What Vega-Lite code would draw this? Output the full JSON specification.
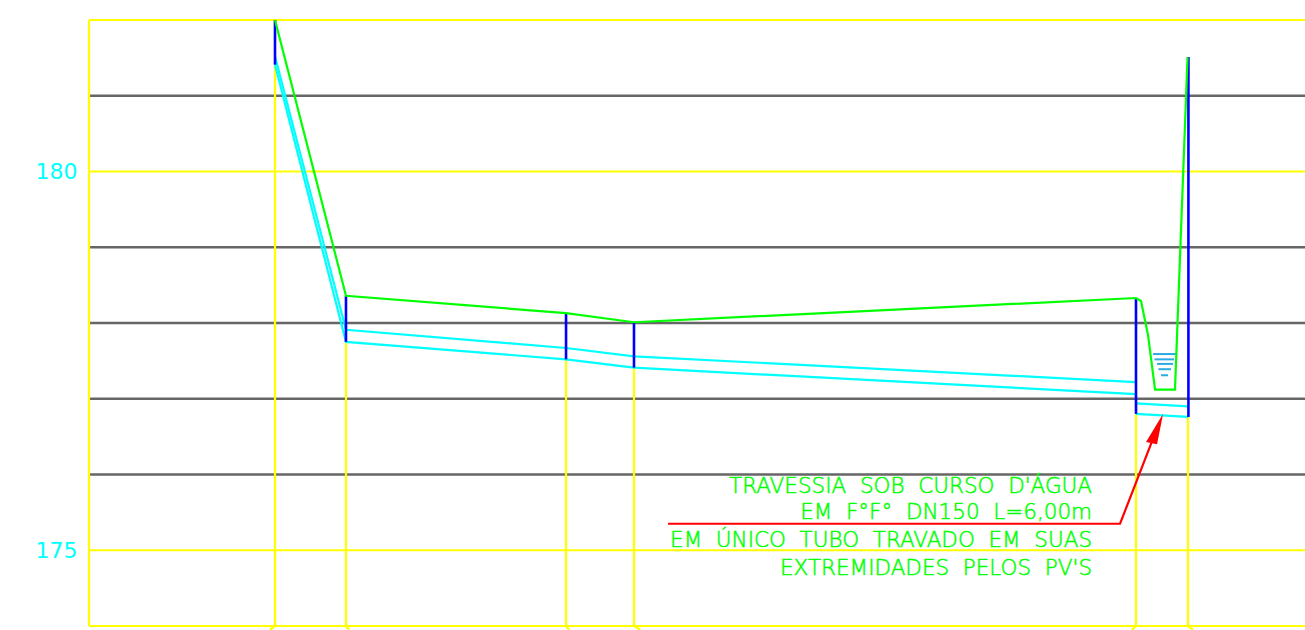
{"$schema":"https://vega.github.io/schema/vega-lite/v6.json","width":1216,"height":606,"autosize":"none","padding":{"left":89,"top":20,"right":0,"bottom":4},"background":"white","view":{"stroke":null},
"datasets":{"lines":[
{"s":"grid","p":"g181","o":0,"x":0,"y":181},{"s":"grid","p":"g181","o":1,"x":140.3,"y":181},
{"s":"grid","p":"g179","o":0,"x":0,"y":179},{"s":"grid","p":"g179","o":1,"x":140.3,"y":179},
{"s":"grid","p":"g178","o":0,"x":0,"y":178},{"s":"grid","p":"g178","o":1,"x":140.3,"y":178},
{"s":"grid","p":"g177","o":0,"x":0,"y":177},{"s":"grid","p":"g177","o":1,"x":140.3,"y":177},
{"s":"grid","p":"g176","o":0,"x":0,"y":176},{"s":"grid","p":"g176","o":1,"x":140.3,"y":176},
{"s":"frame","p":"f182","o":0,"x":0,"y":182},{"s":"frame","p":"f182","o":1,"x":140.3,"y":182},
{"s":"frame","p":"f180","o":0,"x":0,"y":180},{"s":"frame","p":"f180","o":1,"x":140.3,"y":180},
{"s":"frame","p":"f175","o":0,"x":0,"y":175},{"s":"frame","p":"f175","o":1,"x":140.3,"y":175},
{"s":"frame","p":"f174","o":0,"x":0,"y":174},{"s":"frame","p":"f174","o":1,"x":140.3,"y":174},
{"s":"frame","p":"left","o":0,"x":0,"y":182},{"s":"frame","p":"left","o":1,"x":0,"y":174},
{"s":"frame","p":"a","o":0,"x":21.46,"y":181.41},{"s":"frame","p":"a","o":1,"x":21.46,"y":174},{"s":"frame","p":"a","o":2,"x":20.88,"y":173.95},
{"s":"frame","p":"b","o":0,"x":29.65,"y":177.75},{"s":"frame","p":"b","o":1,"x":29.65,"y":174},{"s":"frame","p":"b","o":2,"x":30.0,"y":173.95},
{"s":"frame","p":"c","o":0,"x":55.04,"y":177.52},{"s":"frame","p":"c","o":1,"x":55.04,"y":174},{"s":"frame","p":"c","o":2,"x":55.38,"y":173.95},
{"s":"frame","p":"d","o":0,"x":62.88,"y":177.41},{"s":"frame","p":"d","o":1,"x":62.88,"y":174},{"s":"frame","p":"d","o":2,"x":63.6,"y":173.95},
{"s":"frame","p":"e","o":0,"x":120.8,"y":176.8},{"s":"frame","p":"e","o":1,"x":120.8,"y":174},{"s":"frame","p":"e","o":2,"x":120.34,"y":173.95},
{"s":"frame","p":"h","o":0,"x":126.8,"y":176.76},{"s":"frame","p":"h","o":1,"x":126.8,"y":174},{"s":"frame","p":"h","o":2,"x":127.38,"y":173.95},
{"s":"pipe","p":"top","o":0,"x":21.46,"y":181.52},{"s":"pipe","p":"top","o":1,"x":29.65,"y":177.91},{"s":"pipe","p":"top","o":2,"x":55.04,"y":177.67},{"s":"pipe","p":"top","o":3,"x":62.88,"y":177.56},{"s":"pipe","p":"top","o":4,"x":120.8,"y":177.22},
{"s":"pipe","p":"bottom","o":0,"x":21.46,"y":181.41},{"s":"pipe","p":"bottom","o":1,"x":29.65,"y":177.75},{"s":"pipe","p":"bottom","o":2,"x":55.04,"y":177.52},{"s":"pipe","p":"bottom","o":3,"x":62.88,"y":177.41},{"s":"pipe","p":"bottom","o":4,"x":120.8,"y":177.06},
{"s":"pipe","p":"crosstop","o":0,"x":120.8,"y":176.94},{"s":"pipe","p":"crosstop","o":1,"x":126.8,"y":176.9},
{"s":"pipe","p":"crossbottom","o":0,"x":120.8,"y":176.8},{"s":"pipe","p":"crossbottom","o":1,"x":126.8,"y":176.76},
{"s":"pv","p":"a","o":0,"x":21.46,"y":182},{"s":"pv","p":"a","o":1,"x":21.46,"y":181.41},
{"s":"pv","p":"b","o":0,"x":29.65,"y":178.36},{"s":"pv","p":"b","o":1,"x":29.65,"y":177.75},
{"s":"pv","p":"c","o":0,"x":55.04,"y":178.13},{"s":"pv","p":"c","o":1,"x":55.04,"y":177.52},
{"s":"pv","p":"d","o":0,"x":62.88,"y":178.01},{"s":"pv","p":"d","o":1,"x":62.88,"y":177.41},
{"s":"pv","p":"e","o":0,"x":120.8,"y":178.33},{"s":"pv","p":"e","o":1,"x":120.8,"y":176.8},
{"s":"pv","p":"h","o":0,"x":126.85,"y":181.51},{"s":"pv","p":"h","o":1,"x":126.85,"y":176.76},
{"s":"ground","p":"g","o":0,"x":21.46,"y":182},{"s":"ground","p":"g","o":1,"x":29.65,"y":178.36},{"s":"ground","p":"g","o":2,"x":55.04,"y":178.13},{"s":"ground","p":"g","o":3,"x":62.88,"y":178.01},{"s":"ground","p":"g","o":4,"x":120.8,"y":178.33},{"s":"ground","p":"g","o":5,"x":121.38,"y":178.29},{"s":"ground","p":"g","o":6,"x":122.19,"y":177.84},{"s":"ground","p":"g","o":7,"x":123.0,"y":177.12},{"s":"ground","p":"g","o":8,"x":125.3,"y":177.12},{"s":"ground","p":"g","o":9,"x":126.75,"y":181.51},
{"s":"water","p":"w1","o":0,"x":122.77,"y":177.59},{"s":"water","p":"w1","o":1,"x":125.42,"y":177.59},
{"s":"water","p":"w2","o":0,"x":122.94,"y":177.52},{"s":"water","p":"w2","o":1,"x":125.19,"y":177.52},
{"s":"water","p":"w3","o":0,"x":123.23,"y":177.46},{"s":"water","p":"w3","o":1,"x":125.07,"y":177.46},
{"s":"water","p":"w4","o":0,"x":123.4,"y":177.39},{"s":"water","p":"w4","o":1,"x":124.84,"y":177.39},
{"s":"water","p":"w5","o":0,"x":123.69,"y":177.31},{"s":"water","p":"w5","o":1,"x":124.5,"y":177.31},
{"s":"leader","p":"l","o":0,"x":66.81,"y":175.35},{"s":"leader","p":"l","o":1,"x":118.96,"y":175.35},{"s":"leader","p":"l","o":2,"x":122.59,"y":176.42}
],
"arrow":[{"x":121.96,"y":176.43,"y2":176.43},{"x":123.23,"y":176.67,"y2":176.4},{"x":123.92,"y":176.8,"y2":176.8}],
"notes":[{"x":115.73,"y":175.76,"t":"TRAVESSIA\u00a0\u00a0SOB\u00a0\u00a0CURSO\u00a0\u00a0D'ÁGUA"},{"x":115.73,"y":175.41,"t":"EM\u00a0\u00a0F°F°\u00a0\u00a0DN150\u00a0\u00a0L=6,00m"},{"x":115.73,"y":175.04,"t":"EM\u00a0\u00a0ÚNICO\u00a0\u00a0TUBO\u00a0\u00a0TRAVADO\u00a0\u00a0EM\u00a0\u00a0SUAS"},{"x":115.73,"y":174.67,"t":"EXTREMIDADES\u00a0\u00a0PELOS\u00a0\u00a0PV'S"}]},
"data":{"name":"lines"},
"encoding":{"x":{"field":"x","type":"quantitative","scale":{"domain":[0,140.3],"nice":false,"zero":false},"axis":null},
"y":{"field":"y","type":"quantitative","scale":{"domain":[174,182],"nice":false,"zero":false},"axis":{"orient":"left","values":[175,180],"title":null,"grid":false,"domain":false,"ticks":false,"labelPadding":12,"labelColor":"#00ffff","labelFont":"DejaVu Sans","labelFontSize":22,"format":"d"}}},
"layer":[
{"transform":[{"filter":"datum.s==='grid'"}],"mark":{"type":"line","color":"#666666","strokeWidth":2.6},"encoding":{"detail":{"field":"p"},"order":{"field":"o"}}},
{"transform":[{"filter":"datum.s==='frame'"}],"mark":{"type":"line","color":"#ffff00","strokeWidth":2.2},"encoding":{"detail":{"field":"p"},"order":{"field":"o"}}},
{"transform":[{"filter":"datum.s==='pipe'"}],"mark":{"type":"line","color":"#00ffff","strokeWidth":2.2},"encoding":{"detail":{"field":"p"},"order":{"field":"o"}}},
{"transform":[{"filter":"datum.s==='water'"}],"mark":{"type":"line","color":"#29abe2","strokeWidth":2},"encoding":{"detail":{"field":"p"},"order":{"field":"o"}}},
{"transform":[{"filter":"datum.s==='pv'"}],"mark":{"type":"line","color":"#0000ff","strokeWidth":2.6},"encoding":{"detail":{"field":"p"},"order":{"field":"o"}}},
{"transform":[{"filter":"datum.s==='ground'"}],"mark":{"type":"line","color":"#00ff00","strokeWidth":2.2},"encoding":{"detail":{"field":"p"},"order":{"field":"o"}}},
{"transform":[{"filter":"datum.s==='leader'"}],"mark":{"type":"line","color":"#ff0000","strokeWidth":2.2},"encoding":{"detail":{"field":"p"},"order":{"field":"o"}}},
{"data":{"name":"arrow"},"mark":{"type":"area","color":"#ff0000"},"encoding":{"y2":{"field":"y2"}}},
{"data":{"name":"notes"},"mark":{"type":"text","align":"right","baseline":"alphabetic","color":"#00ff00","stroke":"#00ff00","strokeWidth":0.5,"font":"DejaVu Sans","fontWeight":200,"fontSize":21.5},"encoding":{"text":{"field":"t"}}}
]}
